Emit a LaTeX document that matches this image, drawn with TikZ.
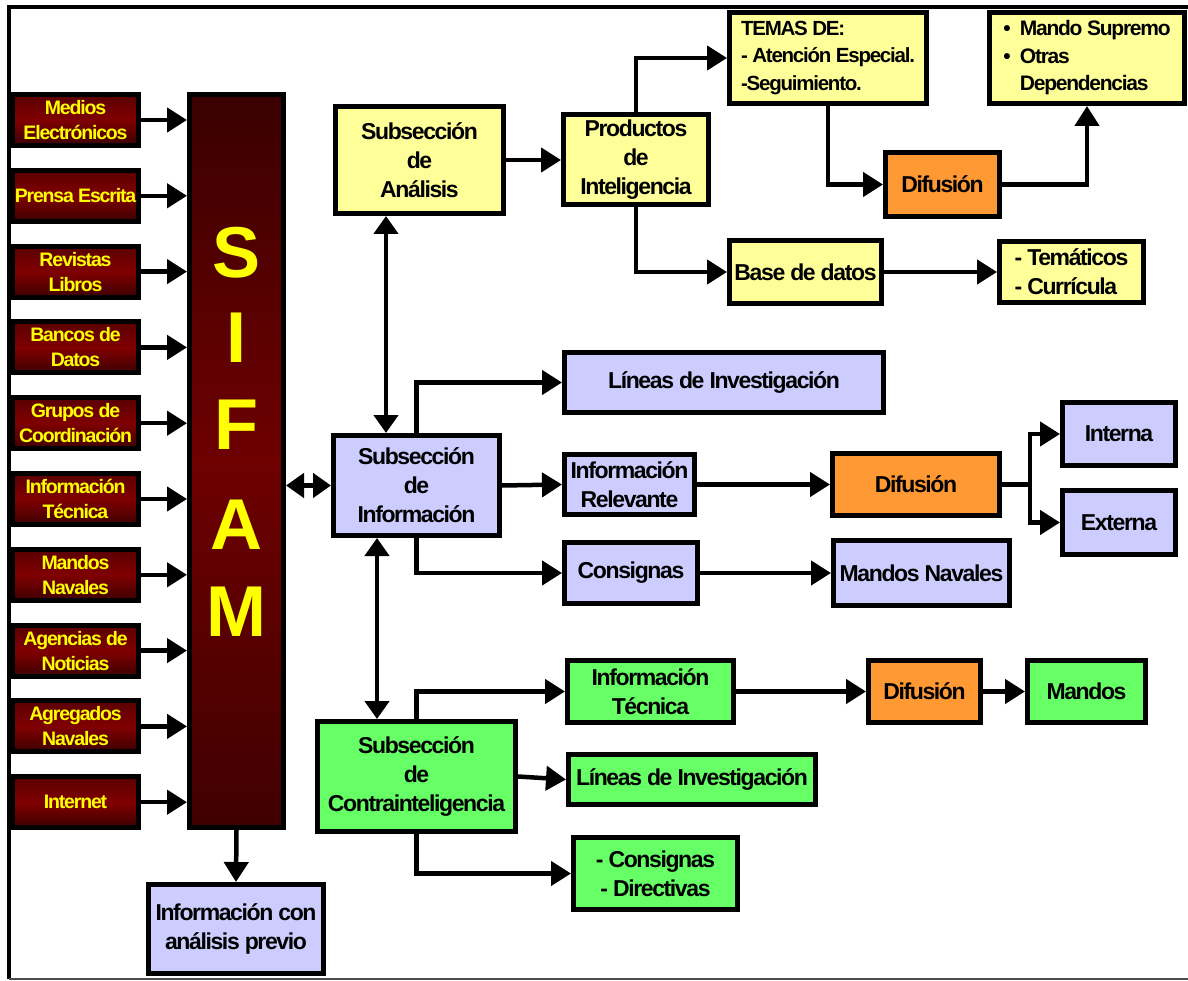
\documentclass[tikz,border=0pt]{standalone}
\usepackage{fontspec}
\setmainfont{Liberation Sans}[LetterSpace=-6]
\usetikzlibrary{arrows.meta}
\definecolor{cyel}{HTML}{FFFF99}
\definecolor{clav}{HTML}{CCCCFF}
\definecolor{corg}{HTML}{FF9933}
\definecolor{cgrn}{HTML}{66FF66}
\definecolor{rtop}{HTML}{5A0000}
\definecolor{rmid}{HTML}{800000}
\definecolor{rbot}{HTML}{3D0000}
\definecolor{stp}{HTML}{3A0000}
\definecolor{smd}{HTML}{6E0000}
\definecolor{sbt}{HTML}{400000}
\definecolor{ytext}{HTML}{FFFF00}
\tikzset{
 bx/.style={draw=black, line width=5pt, inner sep=0pt, align=center, font=\fontsize{23}{29}\selectfont\bfseries},
 yb/.style={bx, fill=cyel},
 lb/.style={bx, fill=clav},
 ob/.style={bx, fill=corg},
 gb/.style={bx, fill=cgrn},
 sz/.style 2 args={minimum width=#1pt, minimum height=#2pt},
 src/.style={draw=black, line width=5pt, inner sep=0pt, align=center, top color=rtop, bottom color=rbot, middle color=rmid, text=ytext, minimum width=126pt, minimum height=51pt, font=\fontsize{19.5}{25}\selectfont\bfseries},
 letter/.style={inner sep=0pt, text=ytext, font=\fontsize{72}{72}\selectfont\bfseries},
 arr/.style={line width=4.5pt, -{Triangle[length=20pt,width=24pt]}},
 darr/.style={line width=4.5pt, {Triangle[length=18pt,width=24pt]}-{Triangle[length=18pt,width=24pt]}},
}
\begin{document}
\begin{tikzpicture}[x=1pt,y=-1pt]
\fill[white] (0,0) rectangle (1188,981);
\useasboundingbox (0,0) rectangle (1188,981);
% frame
\draw[line width=3.5pt] (1188,7) -- (9,7) -- (9,979);
\draw[line width=2.5pt, black!70] (9,979) -- (1188,979);

% SIFAM column
\node[draw=black, line width=5pt, inner sep=0pt, sz={94}{733}, top color=stp, bottom color=sbt, middle color=smd] (sifam) at (236.5,461) {};
\node[letter] (lS) at (236.5,253) {S};
\node[letter] (lI) at (236.5,338) {I};
\node[letter] (lF) at (236.5,425) {F};
\node[letter] (lA) at (236.5,525) {A};
\node[letter] (lM) at (236.5,612) {M};

\foreach \i/\t in {0/{Medios\\Electrónicos}, 1/{Prensa Escrita}, 2/{Revistas\\Libros}, 3/{Bancos de\\Datos}, 4/{Grupos de\\Coordinación}, 5/{Información\\Técnica}, 6/{Mandos\\Navales}, 7/{Agencias de\\Noticias}, 8/{Agregados\\Navales}, 9/{Internet}}{
  \node[src] (s\i) at (75.5,120+75.8*\i) {\t};
  \draw[arr] (s\i.east) -- (s\i.east -| sifam.west);
}

\node[lb, sz={175}{89}] (prev) at (236,929) {Información con\\análisis previo};

% Analisis branch
\node[yb, sz={168}{107}] (anal) at (419.5,160) {Subsección\\de\\Análisis};
\node[yb, sz={145}{90}] (prod) at (636,160) {Productos\\de\\Inteligencia};
\node[yb, sz={197}{91}, align=left, font=\fontsize{20.5}{27.5}\selectfont\bfseries] (temas) at (828,58) {TEMAS DE:\\- Atención Especial.\\-Seguimiento.};
\node[yb, sz={195}{91}, align=left, font=\fontsize{21}{27.5}\selectfont\bfseries] (mando) at (1087,58) {\textbullet\ \ Mando Supremo\\\textbullet\ \ Otras\\\phantom{\textbullet\ \ }Dependencias};
\node[ob, sz={114}{64}] (dif1) at (942.5,184.5) {Difusión};
\node[yb, sz={152}{63}] (base) at (805.5,272) {Base de datos};
\node[yb, sz={144}{61}, align=left] (tem) at (1071.5,272) {- Temáticos\\- Currícula};

% Informacion branch
\node[lb, sz={166}{100}] (info) at (416.5,485.5) {Subsección\\de\\Información};
\node[lb, sz={319}{60}] (lin1) at (724,382.5) {Líneas de Investigación};
\node[lb, sz={130}{60}] (relev) at (629.5,484.5) {Información\\Relevante};
\node[lb, sz={133}{61}] (consig) at (631,573) {Consignas};
\node[ob, sz={167}{62}] (dif2) at (916,484.5) {Difusión};
\node[lb, sz={113}{63}] (interna) at (1119,434) {Interna};
\node[lb, sz={113}{64}] (externa) at (1119,522.5) {Externa};
\node[lb, sz={176}{65}] (mnav) at (921.5,573) {Mandos Navales};

% Contrainteligencia branch
\node[gb, sz={198}{110}] (contra) at (416.5,776.5) {Subsección\\de\\Contrainteligencia};
\node[gb, sz={166}{62}] (itec) at (650.5,691.5) {Información\\Técnica};
\node[gb, sz={247}{50}] (lin2) at (692,779.5) {Líneas de Investigación};
\node[gb, sz={164}{72}] (cd) at (655.5,873.5) {- Consignas\\- Directivas};
\node[ob, sz={112}{62}] (dif3) at (924.5,691.5) {Difusión};
\node[gb, sz={118}{62}] (mandos) at (1086.5,691.5) {Mandos};

% connectors
\coordinate (v1) at (386,0);
\coordinate (v2) at (377,0);
\draw[arr] (sifam.south) -- (prev.north);
\draw[darr] (sifam.east |- info.west) -- (info.west);
\draw[darr] (v1 |- anal.south) -- (v1 |- info.north);
\draw[darr] (v2 |- info.south) -- (v2 |- contra.north);

\draw[arr] (anal.east) -- (prod.west);
\draw[arr] (prod.north) |- (temas.west);
\draw[arr] (prod.south) |- (base.west);
\draw[arr] (temas.south) |- (dif1.west);
\draw[arr] (dif1.east) -| (mando.south);
\draw[arr] (base.east) -- (tem.west);

\draw[arr] (info.north) |- (lin1.west);
\draw[arr] (info.east) -- (relev.west);
\draw[arr] (info.south) |- (consig.west);
\draw[arr] (relev.east) -- (dif2.west);
\coordinate (fork) at (1030,0);
\draw[arr] (dif2.east) -| (fork |- interna.west) -- (interna.west);
\draw[arr] (dif2.east) -| (fork |- externa.west) -- (externa.west);
\draw[arr] (consig.east) -- (mnav.west);

\draw[arr] (contra.north) |- (itec.west);
\draw[arr] (contra.east) -- (lin2.west);
\draw[arr] (contra.south) |- (cd.west);
\draw[arr] (itec.east) -- (dif3.west);
\draw[arr] (dif3.east) -- (mandos.west);
\end{tikzpicture}
\end{document}
